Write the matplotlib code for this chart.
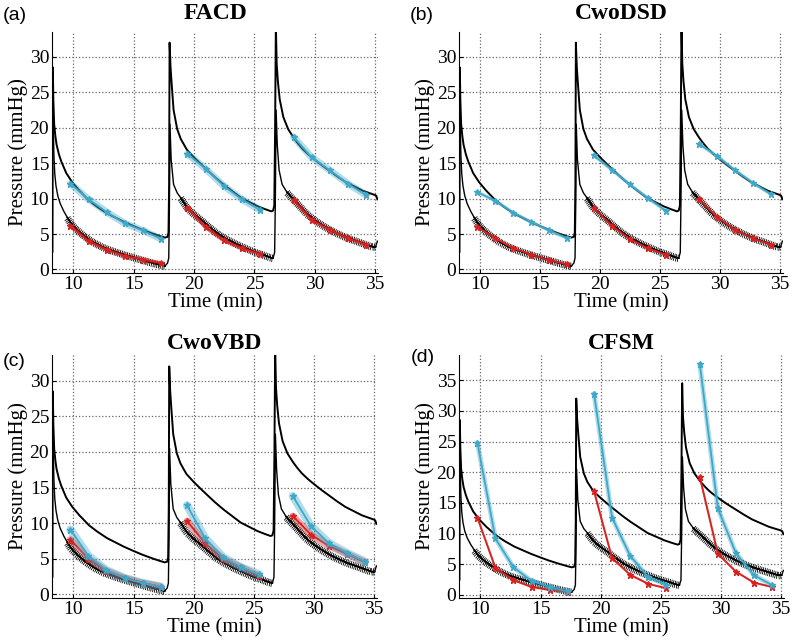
import numpy as np
import matplotlib
matplotlib.use("Agg")
import matplotlib.pyplot as plt
import matplotlib.patheffects as pe

plt.rcParams['font.family'] = ['Liberation Serif', 'DejaVu Serif']

# measured pressure traces (same in every panel)
up_t = [8.26, 8.29, 8.33, 8.4, 8.5, 8.6, 8.8, 9.0, 9.4, 9.9, 10.5, 11.3, 12.0, 12.8, 13.5,
        14.2, 15.0, 15.7, 16.5, 17.2, 17.6, 17.8, 17.88, 17.93, 17.97, 18.05, 18.15, 18.3,
        18.6, 18.9, 19.4, 20.0, 20.6, 21.1, 21.8, 22.5, 23.2, 23.9, 24.6, 25.3, 25.9, 26.4,
        26.55, 26.65, 26.72, 26.78, 26.85, 26.95, 27.1, 27.4, 27.8, 28.25, 28.6, 29.0, 29.5,
        30.0, 30.6, 31.25, 31.9, 32.6, 33.3, 34.0, 34.5, 35.0, 35.1, 35.2]
up_p = [2.5, 28.5, 24.0, 20.5, 18.8, 17.6, 16.2, 15.2, 13.6, 12.3, 11.1, 9.7, 8.8, 7.9, 7.3,
        6.7, 6.1, 5.6, 5.1, 4.7, 4.5, 4.6, 5.2, 12.0, 32.0, 28.5, 26.0, 22.5,
        19.8, 18.4, 16.9, 15.8, 14.8, 14.0, 12.9, 11.9, 11.0, 10.1, 9.5, 8.9, 8.5, 8.2,
        8.3, 9.0, 20.0, 34.5, 29.0, 26.5, 24.0, 21.5, 19.8, 18.6, 17.8, 17.0, 16.2,
        15.5, 14.7, 13.9, 13.1, 12.3, 11.7, 11.1, 10.8, 10.5, 10.4, 9.9]

lo_t = [8.29, 8.33, 8.38, 8.45, 8.55, 8.7, 8.9, 9.2, 9.5, 9.8, 10.3, 11.0, 11.7, 12.5, 13.3,
        14.2, 15.0, 15.8, 16.6, 17.3, 17.6, 17.8, 17.9, 17.95, 18.0, 18.1, 18.3, 18.6, 18.9,
        19.45, 20.0, 20.6, 21.2, 22.0, 22.7, 23.5, 24.3, 25.0, 25.7, 26.3, 26.55, 26.68,
        26.74, 26.8, 26.9, 27.05, 27.3, 27.7, 28.25, 28.8, 29.4, 30.0, 30.6, 31.3, 32.0,
        32.8, 33.5, 34.3, 34.8, 35.05, 35.2]
lo_p = [26.0, 20.0, 16.0, 13.5, 11.8, 10.4, 9.3, 8.2, 7.3, 6.5, 5.6, 4.6, 3.8, 3.1, 2.6,
        2.1, 1.7, 1.3, 0.9, 0.6, 0.5, 0.9, 1.6, 8.0, 20.5, 15.5, 12.0, 10.8, 10.1,
        8.7, 7.8, 7.0, 6.1, 5.0, 4.3, 3.6, 3.0, 2.5, 2.1, 1.7, 1.6, 2.4,
        10.0, 22.5, 17.5, 14.0, 12.0, 10.9, 9.9, 8.9, 7.8, 7.0, 6.3, 5.6, 5.0,
        4.4, 4.0, 3.5, 3.2, 3.2, 4.0]

# sampling times of the fitted points, one list per infusion cycle
t_seg = [[9.75, 11.25, 12.75, 14.25, 15.75, 17.25],
         [19.45, 20.95, 22.45, 23.95, 25.45],
         [28.25, 29.75, 31.25, 32.75, 34.25]]

panels = ['(a)', '(b)', '(c)', '(d)']
titles = ['FACD', 'CwoDSD', 'CwoVBD', 'CFSM']

a_cyan = [[12.1, 9.9, 8.1, 6.5, 5.5, 4.3], [16.3, 14.2, 11.8, 9.9, 8.4], [18.7, 15.8, 14.0, 12.1, 10.5]]
a_red = [[6.2, 4.0, 2.8, 1.9, 1.4, 0.9], [8.7, 6.0, 4.1, 3.0, 2.2], [9.8, 7.0, 5.6, 4.4, 3.5]]
b_cyan = [[10.9, 9.7, 8.0, 6.7, 5.5, 4.4], [16.1, 14.1, 12.0, 10.1, 8.3], [17.7, 16.0, 14.0, 12.2, 10.6]]
b_red = [[6.0, 4.4, 3.0, 2.1, 1.3, 0.7], [8.7, 6.2, 4.3, 3.0, 2.1], [9.9, 7.4, 5.6, 4.4, 3.5]]
c_cyan = [[9.1, 5.4, 3.4, 2.3, 1.6, 1.1], [12.5, 7.9, 5.2, 3.8, 2.8], [13.8, 9.6, 7.2, 5.8, 4.6]]
c_red = [[7.7, 5.0, 3.3, 2.3, 1.6, 1.1], [10.3, 7.2, 5.0, 3.8, 2.6], [11.0, 8.4, 6.8, 5.7, 4.5]]
d_cyan = [[24.8, 9.2, 4.5, 2.3, 1.3, 0.6], [32.8, 12.6, 6.4, 2.9, 1.7], [37.6, 14.1, 6.8, 3.2, 1.6]]
d_red = [[12.6, 4.4, 2.4, 1.3, 0.8, 0.5], [16.9, 6.0, 3.3, 1.8, 1.1], [19.2, 6.7, 3.8, 2.0, 1.3]]

CYAN = '#3fa8c8'
RED = '#d8201e'

W, H = 792, 643
fig = plt.figure(figsize=(W / 100, H / 100), dpi=100)

# axes boxes in pixels: left, top, right, bottom
boxes = [(52, 32, 378, 273), (459, 32, 783, 273), (52, 355, 377, 598), (459, 355, 784, 598)]
ylims = [(-0.5, 33.5), (-0.5, 33.5), (-0.5, 33.6), (-0.5, 39.1)]
yticks = [range(0, 31, 5)] * 3 + [range(0, 36, 5)]
bands = [(5, 3), (2.5, 1.5), (6, 5), (3.5, 1.5)]
title_pad = [9, 9, 4, 4]
fits = [(a_cyan, a_red), (b_cyan, b_red), (c_cyan, c_red), (d_cyan, d_red)]
hatch_spans = [(9.4, 17.7), (18.7, 26.6), (27.4, 35.1)]

lo_t_arr = np.array(lo_t)
lo_p_arr = np.array(lo_p)

for i in range(4):
    l, t, r, b = boxes[i]
    ax = fig.add_axes([l / W, 1 - b / H, (r - l) / W, (b - t) / H])

    ax.plot(up_t, up_p, color='black', lw=1.4, zorder=3)
    ax.plot(lo_t, lo_p, color='black', lw=1.0, zorder=3)
    # jagged look of the lower trace
    for s0, s1 in hatch_spans:
        m = (lo_t_arr >= s0) & (lo_t_arr <= s1)
        ax.plot(lo_t_arr[m], lo_p_arr[m], color='black', lw=1.0, zorder=3,
                path_effects=[pe.withTickedStroke(angle=95, spacing=1.3, length=1.6, linewidth=0.6),
                              pe.withTickedStroke(angle=-85, spacing=1.3, length=2.0, linewidth=0.6),
                              pe.Normal()])

    cy, rd = fits[i]
    for k in range(3):
        ax.plot(t_seg[k], rd[k], color=RED, lw=bands[i][1], alpha=0.4, zorder=4,
                solid_capstyle='round')
        ax.plot(t_seg[k], rd[k], color=RED, lw=1.3, marker='*', ms=5, zorder=5)
        ax.plot(t_seg[k], cy[k], color=CYAN, lw=bands[i][0], alpha=0.4, zorder=6,
                solid_capstyle='round')
        ax.plot(t_seg[k], cy[k], color=CYAN, lw=1.3, marker='*', ms=5, zorder=7)

    ax.set_xlim(8.22, 35.25)
    ax.set_ylim(*ylims[i])
    ax.set_xticks([10, 15, 20, 25, 30, 35])
    ax.set_yticks(list(yticks[i]))
    ax.grid(True, linestyle=':', color='0.4', linewidth=0.9)
    ax.set_axisbelow(True)
    for side in ['top', 'right']:
        ax.spines[side].set_visible(False)
    ax.tick_params(labelsize=14, direction='in', length=3, pad=2)
    ax.set_xlabel('Time (min)', fontsize=15, labelpad=0)
    ax.set_ylabel('Pressure (mmHg)', fontsize=15, labelpad=1)
    ax.set_title(titles[i], fontsize=17, fontweight='bold', pad=title_pad[i])

label_pos = [(3, 16), (410, 16), (3, 361), (411, 357)]
for lab, (x, y) in zip(panels, label_pos):
    fig.text(x / W, 1 - y / H, lab, fontsize=14, family=['Liberation Sans', 'DejaVu Sans'],
             va='center', ha='left')

fig.savefig('out.png', dpi=100)
